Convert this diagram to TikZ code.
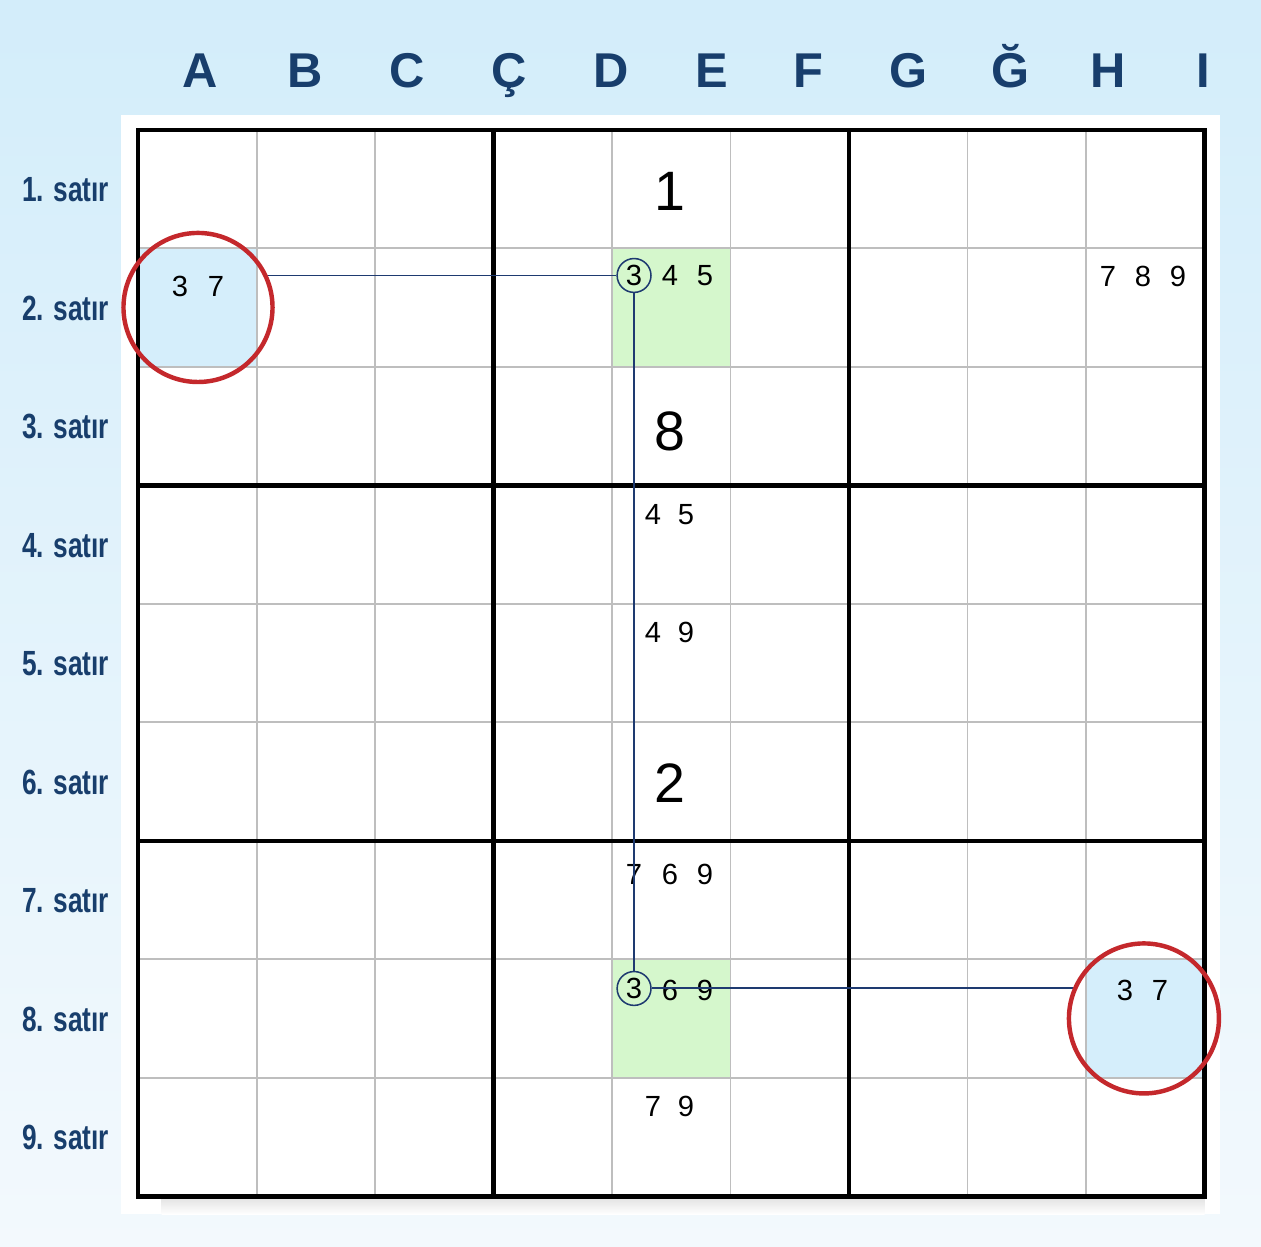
\documentclass[tikz,border=0pt]{standalone}
\usepackage{fontspec}
\setmainfont{Liberation Sans}
\newfontfamily\rowfont{Liberation Sans}[FakeStretch=0.75]
\usetikzlibrary{positioning}

\definecolor{bgtop}{RGB}{211,237,250}
\definecolor{bgbot}{RGB}{243,249,253}
\definecolor{labelblue}{RGB}{24,62,108}
\definecolor{gridgray}{RGB}{190,190,190}
\definecolor{cellblue}{RGB}{213,238,251}
\definecolor{cellgreen}{RGB}{213,247,204}
\definecolor{ringred}{RGB}{196,40,44}
\definecolor{linkblue}{RGB}{30,58,112}

\begin{document}
\begin{tikzpicture}[x=1.5cm, y=1.5cm,
  collabel/.style={anchor=base, text=labelblue, font=\fontsize{17.6}{20}\selectfont\bfseries},
  rowlabel/.style={anchor=base east, inner sep=0pt, text=labelblue, font=\rowfont\fontsize{12.6}{14}\selectfont\bfseries},
  cand/.style={anchor=base, inner sep=0pt, font=\fontsize{10.5}{12}\selectfont},
  bigdigit/.style={anchor=base, inner sep=0pt, font=\fontsize{20}{24}\selectfont},
  pick/.style={circle, draw=linkblue, line width=0.55pt, minimum size=12.2pt, inner sep=0pt, font=\fontsize{10.5}{12}\selectfont},
  link/.style={linkblue, line width=0.7pt},
  thinline/.style={gridgray, line width=0.7pt},
  boxline/.style={black, line width=1.5pt},
  ring/.style={ringred, line width=1.6pt}]

  \useasboundingbox (-1.165,-0.422) rectangle (9.477,10.097);

  % background and panel
  \shade[top color=bgtop, bottom color=bgbot] (-1.165,-0.422) rectangle (9.477,10.097);
  \fill[white] (-0.14,-0.15) rectangle (9.13,9.13);
  \shade[top color=black!12, bottom color=white] (0.2,0) rectangle (9,-0.15);

  % shaded cells
  \fill[cellblue] (0,7) rectangle (1,8);
  \fill[cellblue] (8,1) rectangle (9,2);
  \fill[cellgreen] (4,7) rectangle (5,8);
  \fill[cellgreen] (4,1) rectangle (5,2);

  % grid lines
  \foreach \i in {1,2,4,5,7,8} {
    \draw[thinline] (\i,0) -- (\i,9);
    \draw[thinline] (0,\i) -- (9,\i);
  }
  \foreach \i in {3,6} {
    \draw[boxline] (\i,0) -- (\i,9);
    \draw[boxline] (0,\i) -- (9,\i);
  }
  \draw[boxline] (0,0) rectangle (9,9);

  % column letters
  \foreach \c/\x [count=\k] in {A/0.523, B/1.409, C/2.270, Ç/3.131, D/3.992, E/4.844,
      F/5.654, G/6.498, Ğ/7.359, H/8.186, I/8.987}
    \node[collabel] (col\k) at (\x,9.359) {\c};

  % row labels
  \foreach \r in {1,...,9}
    \node[rowlabel] (row\r) at (-0.24,{9.395-\r}) {\r. satır};

  % given digits
  \node[bigdigit] (e1) at (4.489,8.321) {1};
  \node[bigdigit] (e3) at (4.489,6.295) {8};
  \node[bigdigit] (e6) at (4.489,3.325) {2};

  % candidates
  \node[cand] (a2a) at (0.354,7.595) {3};
  \node[cand] (a2b) at (0.658,7.595) {7};

  \node[pick] (pick2) at (4.186,7.772) {3};
  \node[cand] (d2b) at (4.489,7.688) {4};
  \node[cand] (d2c) at (4.785,7.688) {5};

  \node[cand] (i2a) at (8.186,7.679) {7};
  \node[cand] (i2b) at (8.481,7.679) {8};
  \node[cand] (i2c) at (8.776,7.679) {9};

  \node[cand] (e4a) at (4.346,5.671) {4};
  \node[cand] (e4b) at (4.624,5.671) {5};

  \node[cand] (e5a) at (4.346,4.675) {4};
  \node[cand] (e5b) at (4.624,4.675) {9};

  \node[cand] (e7a) at (4.186,2.633) {7};
  \node[cand] (e7b) at (4.489,2.633) {6};
  \node[cand] (e7c) at (4.785,2.633) {9};

  \node[pick] (pick8) at (4.186,1.755) {3};
  \node[cand] (d8b) at (4.489,1.654) {6};
  \node[cand] (d8c) at (4.785,1.654) {9};

  \node[cand] (e9a) at (4.346,0.675) {7};
  \node[cand] (e9b) at (4.624,0.675) {9};

  \node[cand] (i8a) at (8.329,1.654) {3};
  \node[cand] (i8b) at (8.624,1.654) {7};

  % chain
  \coordinate (a2end) at (1.072,7.772);
  \coordinate (i8end) at (7.907,1.755);
  \draw[link] (a2end) -- (pick2.west);
  \draw[link] (pick2.south) -- (pick8.north);
  \draw[link] (pick8.east) -- (i8end);

  % red rings
  \draw[ring] (0.506,7.502) circle (0.629);
  \draw[ring] (8.489,1.502) circle (0.633);

\end{tikzpicture}
\end{document}
